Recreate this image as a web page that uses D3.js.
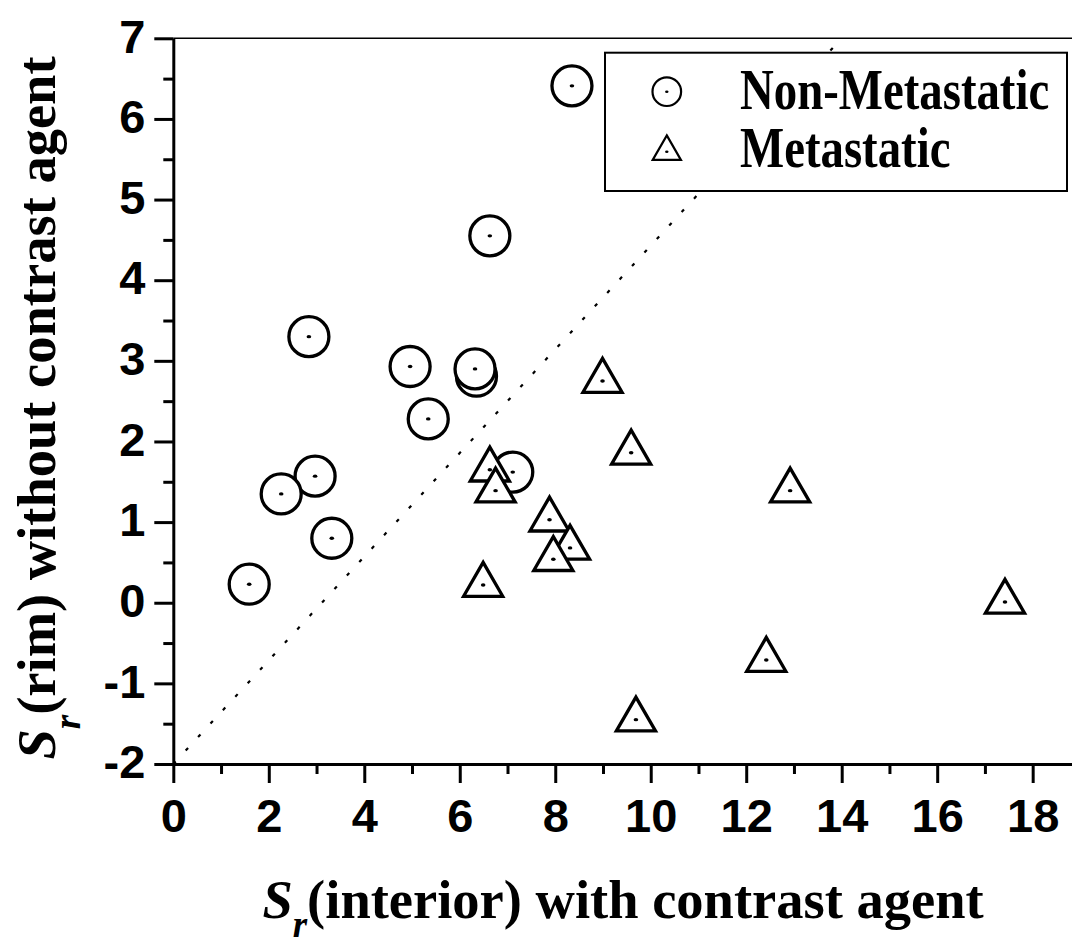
<!DOCTYPE html>
<html>
<head>
<meta charset="utf-8">
<script src="https://cdn.jsdelivr.net/npm/d3@7"></script>
<style>
html,body{margin:0;padding:0;background:#fff;}
svg{display:block;}
</style>
</head>
<body>
<svg id="chart" width="1072" height="942"></svg>
<script>
// ---- data ----
const nonMetX = [8.35, 6.63, 2.84, 4.96, 6.35, 6.32, 5.34, 7.11, 2.97, 2.26, 3.32, 1.59];
const nonMetY = [6.41, 4.55, 3.30, 2.93, 2.81, 2.90, 2.28, 1.62, 1.57, 1.35, 0.80, 0.23];
const metX = [8.99, 6.63, 6.75, 7.88, 8.31, 7.96, 6.49, 9.59, 12.92, 17.42, 12.42, 9.69];
const metY = [2.75, 1.65, 1.39, 1.03, 0.68, 0.54, 0.22, 1.86, 1.39, 0.01, -0.71, -1.45];
const diagX = [0, 14.0];
const diagY = [-2, 7];
const xTicks = [0, 2, 4, 6, 8, 10, 12, 14, 16, 18];
const xMinorTicks = [1, 3, 5, 7, 9, 11, 13, 15, 17];
const yTicks = [-2, -1, 0, 1, 2, 3, 4, 5, 6, 7];
const yMinorTicks = [-1.5, -0.5, 0.5, 1.5, 2.5, 3.5, 4.5, 5.5, 6.5];
const seriesNames = ["Non-Metastatic", "Metastatic"];
const xTitle = ["S", "r", "(interior) with contrast agent"];
const yTitle = ["S", "r", "(rim) without contrast agent"];

const svg = d3.select("#chart");
const x = d3.scaleLinear().domain([0, 18.83]).range([173.3, 1072.3]);
const y = d3.scaleLinear().domain([-2, 7]).range([764, 38.3]);

const sans = "'Liberation Sans', Arial, sans-serif";
const serif = "'Liberation Serif', 'Times New Roman', serif";
const fmt = d => String(d); // plain hyphen-minus like the reference

// top frame line
svg.append("line")
  .attr("x1", x(0)).attr("x2", x(18.83))
  .attr("y1", y(7)).attr("y2", y(7))
  .attr("stroke", "#000").attr("stroke-width", 1.5);

// diagonal dotted line
const line = d3.line().x(d => x(d[0])).y(d => y(d[1]));
svg.append("path")
  .datum(diagX.map((v, i) => [v, diagY[i]]))
  .attr("d", line)
  .attr("fill", "none").attr("stroke", "#000")
  .attr("stroke-width", 2.2).attr("stroke-dasharray", "3.5,14.8");

// axes
function styleAxis(g) {
  g.selectAll("path.domain").attr("stroke", "#000").attr("stroke-width", 3);
  g.selectAll(".tick line").attr("stroke", "#000").attr("stroke-width", 3);
}
const gx = svg.append("g").attr("transform", `translate(0,${y(-2)})`)
  .call(d3.axisBottom(x).tickValues(xTicks).tickFormat(fmt).tickSize(19).tickSizeOuter(0));
gx.call(styleAxis);
gx.selectAll(".tick text")
  .attr("y", 67.7).attr("dy", null)
  .attr("font-family", sans).attr("font-weight", "bold").attr("font-size", 47).attr("fill", "#000");
const gxm = svg.append("g").attr("transform", `translate(0,${y(-2)})`)
  .call(d3.axisBottom(x).tickValues(xMinorTicks).tickSize(10).tickFormat(""));
gxm.select("path.domain").remove();
gxm.call(styleAxis);

const gy = svg.append("g").attr("transform", `translate(${x(0)},0)`)
  .call(d3.axisLeft(y).tickValues(yTicks).tickFormat(fmt).tickSize(19).tickSizeOuter(0));
gy.call(styleAxis);
gy.selectAll(".tick text")
  .attr("x", -28).attr("dy", null).attr("y", 13.7)
  .attr("font-family", sans).attr("font-weight", "bold").attr("font-size", 47).attr("fill", "#000");
const gym = svg.append("g").attr("transform", `translate(${x(0)},0)`)
  .call(d3.axisLeft(y).tickValues(yMinorTicks).tickSize(10).tickFormat(""));
gym.select("path.domain").remove();
gym.call(styleAxis);

// points
const circleSym = d3.symbol().type(d3.symbolCircle).size(Math.PI * 20 * 20);
const triSym = d3.symbol().type(d3.symbolTriangle).size(663);
const nonMet = nonMetX.map((v, i) => [v, nonMetY[i]]);
const met = metX.map((v, i) => [v, metY[i]]);

function drawMarkers(data, sym) {
  const g = svg.append("g");
  const m = g.selectAll("g.m").data(data).join("g")
    .attr("transform", d => `translate(${x(d[0])},${y(d[1])})`);
  m.append("path").attr("d", sym())
    .attr("fill", "#fff").attr("stroke", "#000").attr("stroke-width", 3.3)
    .attr("stroke-linejoin", "miter");
  m.append("ellipse").attr("rx", 2.3).attr("ry", 1.7).attr("fill", "#000");
}
drawMarkers(nonMet, circleSym);
drawMarkers(met, triSym);

// legend
const lg = svg.append("g");
lg.append("rect").attr("x", 605).attr("y", 52.7).attr("width", 462).attr("height", 138.3)
  .attr("fill", "#fff").attr("stroke", "#000").attr("stroke-width", 2);
const legSyms = [d3.symbol().type(d3.symbolCircle).size(Math.PI * 14.3 * 14.3),
                 d3.symbol().type(d3.symbolTriangle).size(663 * 0.52)];
const legY = [91.7, 151.7];
const legBase = [109.3, 166.7];
seriesNames.forEach((name, i) => {
  const s = lg.append("g").attr("transform", `translate(666.8,${legY[i]})`);
  s.append("path").attr("d", legSyms[i]()).attr("fill", "#fff").attr("stroke", "#000")
    .attr("stroke-width", 2.2);
  s.append("ellipse").attr("rx", 1.7).attr("ry", 1.3).attr("fill", "#000");
  // tall, narrow serif lettering as in the reference
  lg.append("text").attr("transform", `translate(740,${legBase[i]}) scale(1,1.24)`)
    .attr("font-family", serif).attr("font-weight", "bold").attr("font-size", 46.8)
    .attr("fill", "#000").text(name);
});

// axis titles
function title(parts, tx, ty, rot, shift) {
  const t = svg.append("text")
    .attr("transform", `translate(${tx},${ty}) rotate(${rot})`)
    .attr("text-anchor", "middle")
    .attr("font-family", serif).attr("font-weight", "bold").attr("font-size", 54.5)
    .attr("fill", "#000");
  t.append("tspan").attr("font-style", "italic").text(parts[0]);
  t.append("tspan").attr("font-style", "italic").attr("font-size", 37).attr("dy", shift).text(parts[1]);
  t.append("tspan").attr("dy", -shift).text(parts[2]);
}
title(xTitle, 623, 918, 0, 19);
title(yTitle, 55, 408, -90, 25);
</script>
</body>
</html>
